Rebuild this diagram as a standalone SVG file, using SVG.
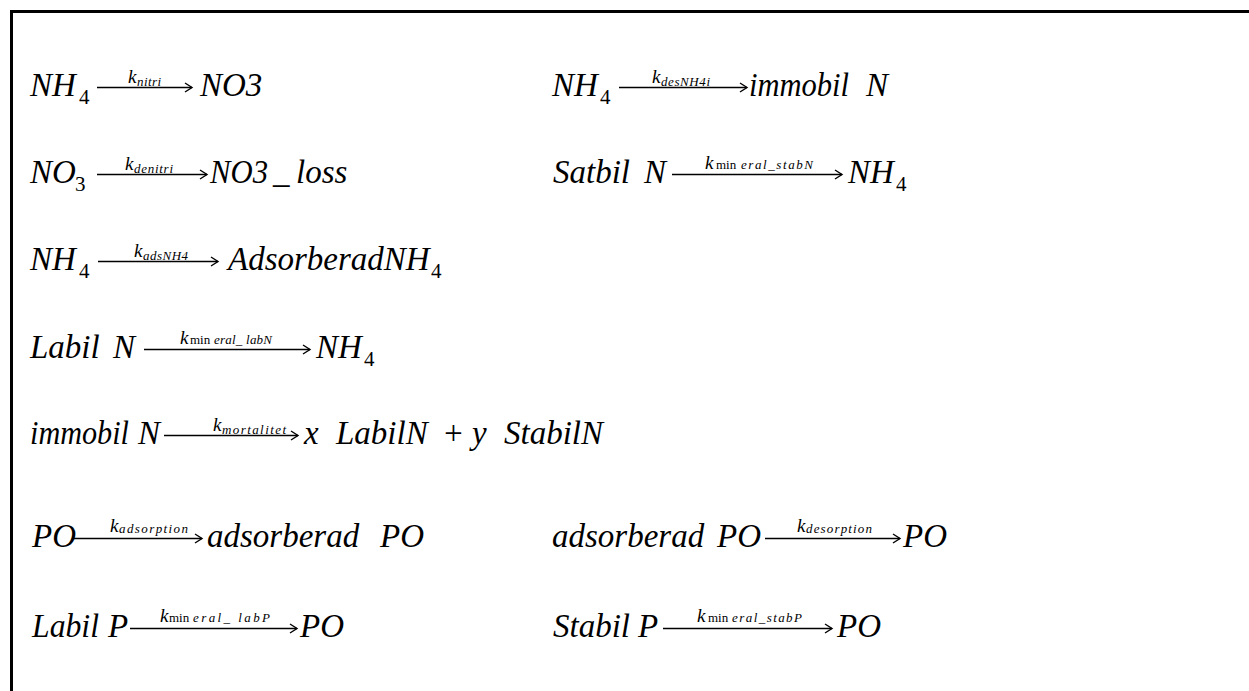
<svg xmlns="http://www.w3.org/2000/svg" width="1249" height="691" viewBox="0 0 1249 691">
<style>
text { font-family: "Liberation Serif", "Times New Roman", serif; fill: #000; }
.m { font-style: italic; font-size: 33px; }
.d { font-style: normal; font-size: 21px; }
.k { font-style: italic; font-size: 19px; }
.s { font-style: italic; font-size: 13px; }
.u { font-style: normal; font-size: 13px; }
.arr { stroke: #000; stroke-width: 1.4; fill: none; marker-end: url(#ah); }
</style>
<defs>
<marker id="ah" markerWidth="12" markerHeight="12" refX="10" refY="6" orient="auto" markerUnits="userSpaceOnUse">
<path d="M3,1.5 L10,6 L3,10.5" fill="none" stroke="#000" stroke-width="1.4"/>
</marker>
</defs>
<rect x="0" y="0" width="1249" height="691" fill="#fff"/>
<g id="frame">
<rect x="10" y="10" width="1239" height="3" fill="#000"/>
<rect x="10" y="10" width="3" height="681" fill="#000"/>
</g>
<g id="connectors">
<line class="arr" x1="97" y1="87.5" x2="192" y2="87.5"/>
<line class="arr" x1="619" y1="87.5" x2="747" y2="87.5"/>
<line class="arr" x1="97" y1="174.5" x2="207" y2="174.5"/>
<line class="arr" x1="672" y1="174.5" x2="842" y2="174.5"/>
<line class="arr" x1="98" y1="261.5" x2="218" y2="261.5"/>
<line class="arr" x1="144" y1="349.5" x2="310" y2="349.5"/>
<line class="arr" x1="164" y1="435.5" x2="298" y2="435.5"/>
<line class="arr" x1="74" y1="538.5" x2="202" y2="538.5"/>
<line class="arr" x1="765" y1="538.5" x2="900" y2="538.5"/>
<line class="arr" x1="130" y1="628.5" x2="297" y2="628.5"/>
<line class="arr" x1="663" y1="628.5" x2="832" y2="628.5"/>
</g>
<g id="eq-nitri">
<text class="m" x="30" y="96">NH</text><text class="d" x="79" y="104">4</text>
<text class="k" x="128" y="83">k</text><text class="s" x="137" y="86" textLength="24">nitri</text>
<text class="m" x="200" y="96">NO3</text>
</g>
<g id="eq-desNH4i">
<text class="m" x="552" y="96">NH</text><text class="d" x="600" y="104">4</text>
<text class="k" x="652" y="83">k</text><text class="s" x="661" y="86" textLength="49">desNH4i</text>
<text class="m" x="749" y="96" textLength="100" lengthAdjust="spacingAndGlyphs">immobil</text><text class="m" x="866" y="96">N</text>
</g>
<g id="eq-denitri">
<text class="m" x="30" y="183">NO</text><text class="d" x="75" y="191">3</text>
<text class="k" x="125" y="170">k</text><text class="s" x="134" y="173" textLength="39">denitri</text>
<text class="m" x="210" y="183" textLength="58" lengthAdjust="spacingAndGlyphs">NO3</text><text class="m" x="273" y="183">_</text><text class="m" x="296" y="183">loss</text>
</g>
<g id="eq-stabN">
<text class="m" x="553" y="183">Satbil</text><text class="m" x="644" y="183">N</text>
<text class="k" x="705" y="169">k</text><text class="u" x="716" y="169">min</text><text class="s" x="741" y="169" textLength="72">eral_stabN</text>
<text class="m" x="848" y="183">NH</text><text class="d" x="896" y="191">4</text>
</g>
<g id="eq-adsNH4">
<text class="m" x="30" y="270">NH</text><text class="d" x="79" y="278">4</text>
<text class="k" x="134" y="257">k</text><text class="s" x="143" y="260" textLength="45">adsNH4</text>
<text class="m" x="228" y="270">AdsorberadNH</text><text class="d" x="431" y="278">4</text>
</g>
<g id="eq-labN">
<text class="m" x="30" y="358">Labil</text><text class="m" x="113" y="358">N</text>
<text class="k" x="180" y="344">k</text><text class="u" x="190" y="344">min</text><text class="s" x="214" y="344" textLength="58">eral_ labN</text>
<text class="m" x="316" y="358">NH</text><text class="d" x="364" y="366">4</text>
</g>
<g id="eq-mortalitet">
<text class="m" x="30" y="444" textLength="99" lengthAdjust="spacingAndGlyphs">immobil</text><text class="m" x="138" y="444">N</text>
<text class="k" x="213" y="431">k</text><text class="s" x="222" y="434" textLength="64">mortalitet</text>
<text class="m" x="304" y="444">x</text><text class="m" x="336" y="444">LabilN</text><text class="m" x="442" y="444">+</text><text class="m" x="472" y="444">y</text><text class="m" x="504" y="444">StabilN</text>
</g>
<g id="eq-adsorption">
<text class="m" x="32" y="547">PO</text>
<text class="k" x="110" y="532">k</text><text class="s" x="119" y="533" textLength="69">adsorption</text>
<text class="m" x="207" y="547">adsorberad</text><text class="m" x="380" y="547">PO</text>
</g>
<g id="eq-desorption">
<text class="m" x="552" y="547">adsorberad</text><text class="m" x="717" y="547">PO</text>
<text class="k" x="797" y="532">k</text><text class="s" x="806" y="533" textLength="66">desorption</text>
<text class="m" x="903" y="547">PO</text>
</g>
<g id="eq-labP">
<text class="m" x="32" y="637" textLength="67" lengthAdjust="spacingAndGlyphs">Labil</text><text class="m" x="108" y="637">P</text>
<text class="k" x="160" y="622">k</text><text class="u" x="169" y="622">min</text><text class="s" x="193" y="622" textLength="77">eral_ labP</text>
<text class="m" x="300" y="637">PO</text>
</g>
<g id="eq-stabP">
<text class="m" x="553" y="637">Stabil</text><text class="m" x="638" y="637">P</text>
<text class="k" x="697" y="622">k</text><text class="u" x="708" y="622">min</text><text class="s" x="732" y="622" textLength="70">eral_stabP</text>
<text class="m" x="837" y="637">PO</text>
</g>
</svg>
